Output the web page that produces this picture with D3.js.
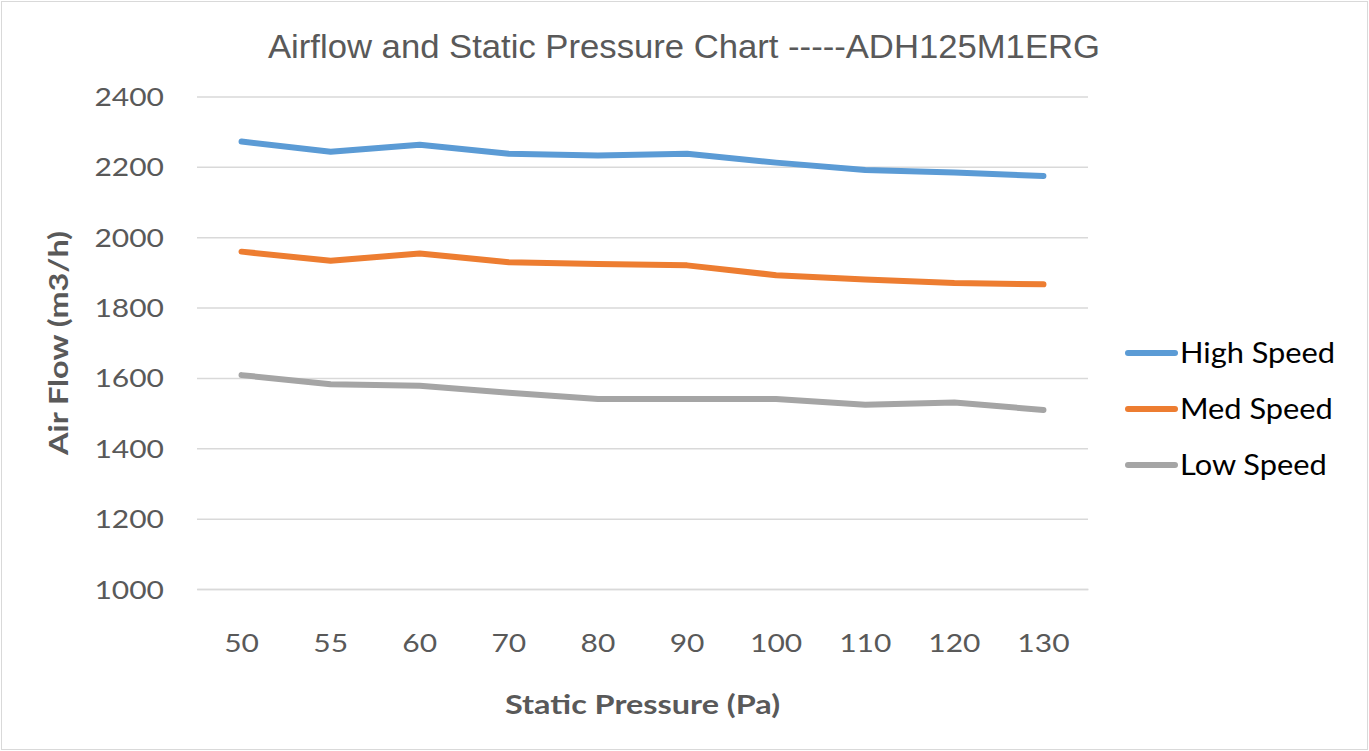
<!DOCTYPE html>
<html><head><meta charset="utf-8">
<script src="https://cdn.jsdelivr.net/npm/d3@7"></script>
<style>body{margin:0;background:#fff}svg{display:block}</style>
</head><body>
<svg id="chart" width="1369" height="751"></svg>
<script>
const categories = ["50","55","60","70","80","90","100","110","120","130"];
const highSpeed = [2272,2243,2263,2237,2232,2237,2212,2191,2184,2174];
const medSpeed  = [1959,1933,1954,1929,1924,1920,1892,1880,1870,1866];
const lowSpeed  = [1608,1582,1578,1558,1540,1540,1540,1524,1530,1509];
const yTicks = [1000,1200,1400,1600,1800,2000,2200,2400];
const seriesNames = ["High Speed","Med Speed","Low Speed"];
const seriesColors = ["#5b9bd5","#ed7d31","#a5a5a5"];
const seriesData = [highSpeed, medSpeed, lowSpeed];
const titleText = "Airflow and Static Pressure Chart -----ADH125M1ERG";
const xTitle = "Static Pressure (Pa)";
const yTitle = "Air Flow (m3/h)";

const svg = d3.select("#chart");
const W = 1369, H = 751;
const plot = {left:197, right:1088, top:96.5, bottom:589};
const tickFont = "Lato, 'Open Sans', sans-serif";
const SX = 1.2;

svg.append("rect").attr("x",1.5).attr("y",1.5).attr("width",W-3).attr("height",H-3)
  .attr("fill","#fff").attr("stroke","#d9d9d9").attr("stroke-width",1);

const x = d3.scaleBand().domain(categories).range([plot.left, plot.right]);
const y = d3.scaleLinear().domain([1000,2400]).range([plot.bottom, plot.top]);

// gridlines + y labels
const yAxis = d3.axisLeft(y).tickValues(yTicks).tickFormat(d3.format("d"))
  .tickSize(-(plot.right-plot.left)).tickPadding(32);
const gy = svg.append("g").attr("transform",`translate(${plot.left},0)`).call(yAxis);
gy.select(".domain").remove();
gy.selectAll(".tick line").attr("stroke","#d9d9d9").attr("stroke-width",1.5);
gy.selectAll(".tick text").attr("fill","#595959").attr("font-size",25)
  .attr("font-family",tickFont).attr("dy","0.36em")
  .attr("x",-33/SX).attr("transform",`scale(${SX},1)`);

const xAxis = d3.axisBottom(x).tickSize(0).tickPadding(54);
const gx = svg.append("g").attr("transform",`translate(0,${plot.bottom})`).call(xAxis);
gx.select(".domain").attr("stroke","#d9d9d9").attr("stroke-width",1.5);
gx.selectAll(".tick text").attr("fill","#595959").attr("font-size",25)
  .attr("font-family",tickFont).attr("dy","0.36em").attr("transform",`scale(${SX},1)`);

// lines
const line = d3.line().x((d,i)=>x(categories[i])+x.bandwidth()/2).y(d=>y(d));
seriesData.forEach((s,k)=>{
  svg.append("path").datum(s).attr("d",line).attr("fill","none")
    .attr("stroke",seriesColors[k]).attr("stroke-width",6)
    .attr("stroke-linecap","round").attr("stroke-linejoin","round");
});

// title
svg.append("text").attr("x",684).attr("y",58).attr("text-anchor","middle")
  .attr("font-family","'Liberation Sans Narrow', 'Arial Narrow', 'Liberation Sans', sans-serif")
  .attr("font-size",34).attr("fill","#595959")
  .attr("textLength",832).attr("lengthAdjust","spacingAndGlyphs")
  .text(titleText);

// axis titles
svg.append("g").attr("transform",`translate(${(plot.left+plot.right)/2},714) scale(${SX},1)`)
  .append("text").attr("text-anchor","middle")
  .attr("font-family",tickFont).attr("font-weight","bold").attr("font-size",27).attr("fill","#595959")
  .text(xTitle);
svg.append("g").attr("transform",`translate(68,343) rotate(-90) scale(${SX},1)`)
  .append("text").attr("text-anchor","middle")
  .attr("font-family",tickFont).attr("font-weight","bold").attr("font-size",27).attr("fill","#595959")
  .text(yTitle);

// legend
const leg = svg.append("g");
seriesNames.forEach((n,k)=>{
  const yy = 353 + k*56;
  leg.append("line").attr("x1",1128).attr("x2",1175).attr("y1",yy).attr("y2",yy)
    .attr("stroke",seriesColors[k]).attr("stroke-width",6).attr("stroke-linecap","round");
  leg.append("g").attr("transform",`translate(1180,${yy}) scale(1.1,1)`)
    .append("text").attr("dy","0.36em")
    .attr("font-family",tickFont).attr("font-size",28).attr("fill","#000").text(n);
});
</script>
</body></html>
